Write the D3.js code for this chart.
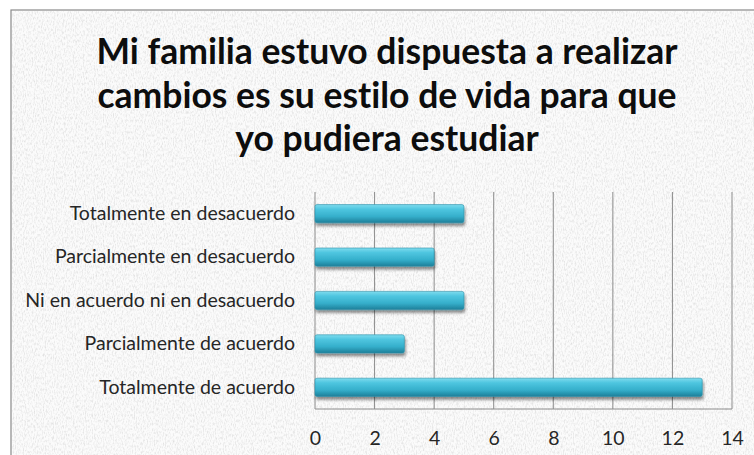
<!DOCTYPE html>
<html>
<head>
<meta charset="utf-8">
<script src="https://cdn.jsdelivr.net/npm/d3@7"></script>
<style>
  html, body { margin: 0; padding: 0; background: #ffffff; }
  svg { display: block; }
  text { font-variant-ligatures: none; }
</style>
</head>
<body>
<div id="chart"></div>
<script>
// Survey answers and number of respondents per answer
const categories = [
  "Totalmente en desacuerdo",
  "Parcialmente en desacuerdo",
  "Ni en acuerdo ni en desacuerdo",
  "Parcialmente de acuerdo",
  "Totalmente de acuerdo"
];
const counts = [5, 4, 5, 3, 13];
const xTicks = [0, 2, 4, 6, 8, 10, 12, 14];
const titleLines = [
  "Mi familia estuvo dispuesta a realizar",
  "cambios es su estilo de vida para que",
  "yo pudiera estudiar"
];

const W = 754, H = 455;
const plot = { left: 315, right: 732, top: 192, bottom: 409 };
const FONT = "Lato, 'Open Sans', sans-serif";

const svg = d3.select("#chart").append("svg")
  .attr("width", W).attr("height", H);

const defs = svg.append("defs");

// Canvas-like paper texture for the chart frame
const tex = defs.append("filter").attr("id", "paper")
  .attr("x", 0).attr("y", 0).attr("width", "100%").attr("height", "100%");
tex.append("feTurbulence").attr("type", "fractalNoise")
  .attr("baseFrequency", "0.9 0.35").attr("numOctaves", 2).attr("seed", 7).attr("result", "noise");
tex.append("feColorMatrix").attr("in", "noise").attr("type", "matrix")
  .attr("values", "0 0 0 0 0.6  0 0 0 0 0.6  0 0 0 0 0.6  0 0 0 -2.2 1.25")
  .attr("result", "speck");
tex.append("feComposite").attr("in", "speck").attr("in2", "SourceGraphic").attr("operator", "in");

// Cylindrical shading of the bars
const grad = defs.append("linearGradient").attr("id", "barGrad")
  .attr("x1", 0).attr("y1", 0).attr("x2", 0).attr("y2", 1);
[["0%", "#7fdcee"], ["25%", "#4fc6e0"], ["65%", "#35afcb"], ["100%", "#1d7f99"]]
  .forEach(([o, c]) => grad.append("stop").attr("offset", o).attr("stop-color", c));

const shadow = defs.append("filter").attr("id", "barShadow")
  .attr("x", "-5%").attr("y", "-30%").attr("width", "110%").attr("height", "180%");
shadow.append("feGaussianBlur").attr("in", "SourceAlpha").attr("stdDeviation", 1.8).attr("result", "b");
shadow.append("feOffset").attr("in", "b").attr("dx", 1).attr("dy", 3).attr("result", "o");
shadow.append("feComponentTransfer").attr("in", "o").attr("result", "s")
  .append("feFuncA").attr("type", "linear").attr("slope", 0.45);
const merge = shadow.append("feMerge");
merge.append("feMergeNode").attr("in", "s");
merge.append("feMergeNode").attr("in", "SourceGraphic");

// Chart frame
svg.append("rect").attr("x", 11).attr("y", 10).attr("width", W).attr("height", H)
  .attr("fill", "#fbfbfb").attr("stroke", "#8a8a8a").attr("stroke-width", 1.2);
svg.append("rect").attr("x", 12).attr("y", 11).attr("width", W).attr("height", H)
  .attr("fill", "#ffffff").attr("filter", "url(#paper)").attr("opacity", 0.55);

// Title
svg.append("g").selectAll("text").data(titleLines).join("text")
  .attr("x", 387).attr("y", (d, i) => 64 + i * 43.5)
  .attr("text-anchor", "middle")
  .attr("font-family", FONT)
  .attr("font-weight", "bold").attr("font-size", 35.5)
  .attr("fill", "#0d0d0d")
  .text(d => d);

// Scales
const x = d3.scaleLinear().domain([0, 14]).range([plot.left, plot.right]);
const y = d3.scaleBand().domain(categories).range([plot.top, plot.bottom])
  .paddingInner(0.58).paddingOuter(0.29);

// Vertical gridlines
svg.append("g").selectAll("line").data(xTicks).join("line")
  .attr("x1", d => x(d)).attr("x2", d => x(d))
  .attr("y1", plot.top).attr("y2", plot.bottom)
  .attr("stroke", "#8c8c8c").attr("stroke-width", 1);

// Bottom axis line
svg.append("line").attr("x1", plot.left).attr("x2", plot.right)
  .attr("y1", plot.bottom).attr("y2", plot.bottom)
  .attr("stroke", "#8c8c8c").attr("stroke-width", 1);

// Bars
const rows = categories.map((c, i) => ({ c, v: counts[i] }));
svg.append("g").selectAll("rect").data(rows).join("rect")
  .attr("x", x(0)).attr("y", d => y(d.c))
  .attr("width", d => x(d.v) - x(0)).attr("height", y.bandwidth())
  .attr("rx", 2).attr("ry", 2)
  .attr("fill", "url(#barGrad)")
  .attr("stroke", "#2a8fa8").attr("stroke-width", 0.6)
  .attr("filter", "url(#barShadow)");

// Category axis labels
const yAxis = d3.axisLeft(y).tickSize(0).tickPadding(20);
const gy = svg.append("g").attr("transform", `translate(${plot.left},0)`).call(yAxis);
gy.select(".domain").remove();
gy.selectAll("text")
  .attr("font-family", FONT)
  .attr("font-size", 19.5).attr("fill", "#262626");

// Value axis labels
const xAxis = d3.axisBottom(x).tickValues(xTicks).tickSize(0).tickPadding(22);
const gx = svg.append("g").attr("transform", `translate(0,${plot.bottom})`).call(xAxis);
gx.select(".domain").remove();
gx.selectAll("text")
  .attr("font-family", FONT)
  .attr("font-size", 19.5).attr("fill", "#262626");
</script>
</body>
</html>
